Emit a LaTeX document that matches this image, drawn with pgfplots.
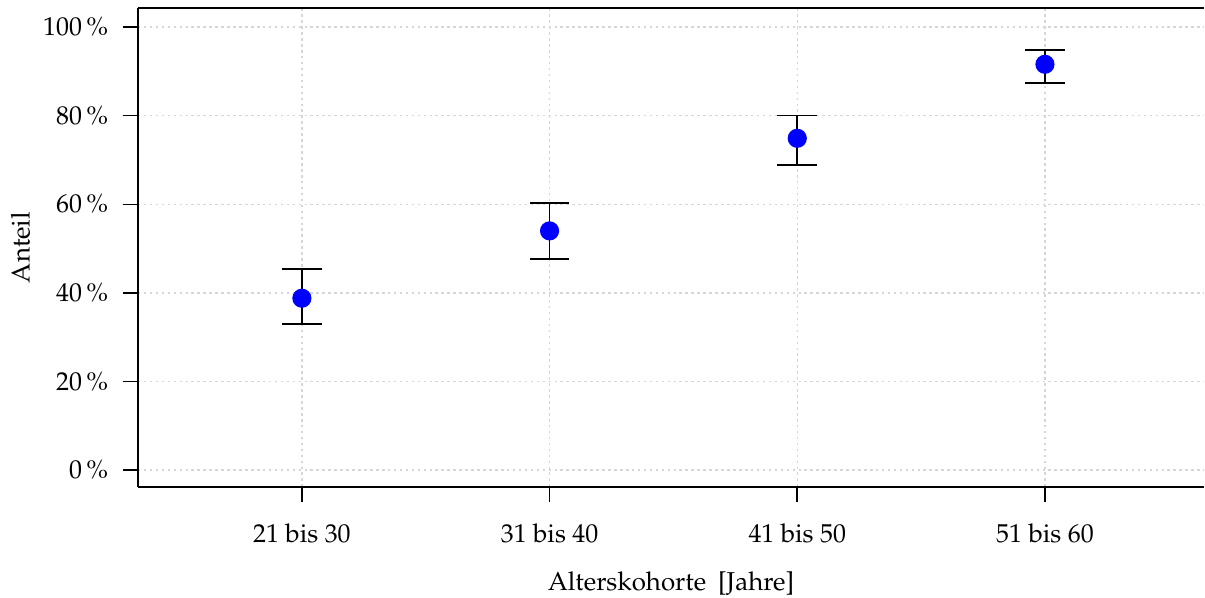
\documentclass[border=0pt]{standalone}
\usepackage[T1]{fontenc}
\usepackage{mathpazo}
\usepackage{pgfplots}
\pgfplotsset{compat=1.18}
\pgfplotstableread{
x  y     ep   em
1  38.8  6.6  5.8
2  54.0  6.3  6.4
3  74.9  5.1  6.0
4  91.6  3.2  4.2
}\datatable
\begin{document}
\begin{tikzpicture}
\begin{axis}[
  scale only axis,
  width=412pt, height=185.1pt,
  xmin=0.338, xmax=4.642,
  ymin=-3.8, ymax=104.3,
  axis x line*=bottom,
  axis y line*=left,
  axis line style={line width=0.6pt, -},
  xtick={1,2,3,4},
  xticklabels={21 bis 30,31 bis 40,41 bis 50,51 bis 60},
  ytick={0,20,40,60,80,100},
  yticklabel={\pgfmathprintnumber{\tick}\,\%},
  tick align=outside,
  major tick length=5.9pt,
  tick style={black, line width=0.6pt},
  grid=major,
  grid style={dash pattern=on 1pt off 1.3pt, gray!32, line width=0.5pt},
  xticklabel style={yshift=-4.8pt},
  yticklabel style={xshift=-2.1pt},
  xlabel={Alterskohorte\hspace{4.6pt}[Jahre]},
  ylabel={Anteil},
  xlabel style={yshift=-4.2pt},
  ylabel style={yshift=-1.8pt},
  clip=false,
]
\draw[line width=0.6pt] (rel axis cs:0,1) -- (rel axis cs:1,1);
\addplot[
  only marks,
  mark=*,
  mark size=3.5pt,
  mark options={fill=blue, draw=blue},
  error bars/.cd,
    y dir=both, y explicit,
    error bar style={black, line width=0.6pt},
    error mark options={rotate=90, mark size=7.7pt, line width=0.6pt, black},
] table[x=x, y=y, y error plus=ep, y error minus=em] {\datatable};
\end{axis}
\pgfresetboundingbox
\path (current axis.south west) ++(-53.3pt,-42.9pt) coordinate (bbsw);
\path (current axis.north east) ++(0.4pt,3.1pt) coordinate (bbne);
\useasboundingbox (bbsw) rectangle (bbne);
\end{tikzpicture}
\end{document}
